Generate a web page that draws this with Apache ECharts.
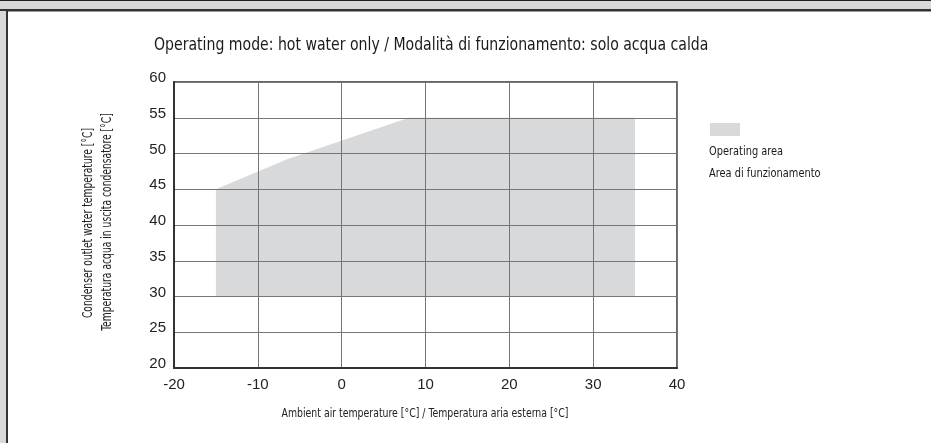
<!DOCTYPE html>
<html>
<head>
<meta charset="utf-8">
<script src="https://cdn.jsdelivr.net/npm/echarts@6/dist/echarts.min.js"></script>
<style>
  html, body { margin: 0; padding: 0; background: #fff; }
  #chart { width: 931px; height: 443px; }
</style>
</head>
<body>
<div id="chart"></div>
<script>
// 数据
const xTicks = [-20, -10, 0, 10, 20, 30, 40];
const yTicks = [20, 25, 30, 35, 40, 45, 50, 55, 60];
// 运行区域边界 [环境温度, 出水温度]
const areaOutline = [
    [-15, 30],
    [-15, 45],
    [-6.5, 49.2],
    [8, 55],
    [35, 55],
    [35, 30]
];

const titleText = 'Operating mode: hot water only / Modalità di funzionamento: solo acqua calda';
const xName = 'Ambient air temperature [°C] / Temperatura aria esterna [°C]';
const yName1 = 'Condenser outlet water temperature [°C]';
const yName2 = 'Temperatura acqua in uscita condensatore [°C]';
const legendLines = ['Operating area', 'Area di funzionamento'];

const narrow = "'DejaVu Sans Condensed', 'DejaVu Sans', sans-serif";
const areaColor = '#d8d9db';

const chart = echarts.init(document.getElementById('chart'));

// 窄体文字（压缩宽度）
function narrowText(text, x, y, size, sx, opts) {
    return Object.assign({
        type: 'text',
        x: x,
        y: y,
        scaleX: sx,
        style: {
            text: text,
            font: size + 'px ' + narrow,
            fill: '#1a1a1a',
            verticalAlign: 'middle'
        }
    }, opts || {});
}

// 居中文字，可旋转
function centeredText(text, x, y, size, sx, rot) {
    return {
        type: 'text',
        x: x,
        y: y,
        scaleX: sx,
        rotation: rot || 0,
        style: {
            text: text,
            font: size + 'px ' + narrow,
            fill: '#222',
            align: 'center',
            verticalAlign: 'middle'
        }
    };
}

const option = {
    animation: false,
    grid: {
        left: 174,
        top: 82,
        right: 254,
        bottom: 75,
        show: true,
        borderColor: '#333',
        borderWidth: 1.5,
        backgroundColor: 'transparent'
    },
    xAxis: {
        type: 'value',
        min: xTicks[0],
        max: xTicks[xTicks.length - 1],
        interval: 10,
        z: 5,
        axisLine: { onZero: false, lineStyle: { color: '#333', width: 2 } },
        axisTick: { show: false },
        axisLabel: { fontFamily: 'Liberation Sans, Arial, sans-serif', fontSize: 15, color: '#222', margin: 9 },
        splitLine: { lineStyle: { color: '#767676', width: 1 } }
    },
    yAxis: {
        type: 'value',
        min: yTicks[0],
        max: yTicks[yTicks.length - 1],
        interval: 5,
        z: 5,
        axisLine: { onZero: false, lineStyle: { color: '#333', width: 2 } },
        axisTick: { show: false },
        axisLabel: {
            fontFamily: 'Liberation Sans, Arial, sans-serif',
            fontSize: 15,
            color: '#222',
            margin: 8,
            verticalAlign: 'bottom',
            lineHeight: 8
        },
        splitLine: { lineStyle: { color: '#767676', width: 1 } }
    },
    series: [
        {
            name: 'Operating area',
            type: 'custom',
            z: 1,
            data: [0],
            renderItem: function (params, api) {
                const pts = areaOutline.map(p => api.coord(p));
                return {
                    type: 'polygon',
                    shape: { points: pts },
                    style: { fill: areaColor }
                };
            }
        }
    ],
    graphic: [
        // 外框
        { type: 'rect', left: 0, top: 0, shape: { width: 931, height: 10 }, style: { fill: '#d9d9d9' } },
        { type: 'rect', left: 0, top: 0, shape: { width: 931, height: 1 }, style: { fill: '#222' } },
        { type: 'rect', left: 0, top: 9, shape: { width: 931, height: 2.5 }, style: { fill: '#333' } },
        { type: 'rect', left: 0, top: 11, shape: { width: 6, height: 432 }, style: { fill: '#d9d9d9' } },
        { type: 'rect', left: 6, top: 11, shape: { width: 2, height: 432 }, style: { fill: '#333' } },
        // 标题
        narrowText(titleText, 154, 46, 17, 0.92),
        // 坐标轴名称
        centeredText(xName, 425, 414, 13, 0.8),
        centeredText(yName1, 88, 223, 14, 0.73, Math.PI / 2),
        centeredText(yName2, 107, 222, 14, 0.73, Math.PI / 2),
        // 图例
        { type: 'rect', left: 710, top: 123, shape: { width: 30, height: 13 }, style: { fill: areaColor } },
        narrowText(legendLines[0], 709, 152, 13, 0.84),
        narrowText(legendLines[1], 709, 174, 13, 0.84)
    ]
};

chart.setOption(option);
window.addEventListener('resize', () => chart.resize());
</script>
</body>
</html>
